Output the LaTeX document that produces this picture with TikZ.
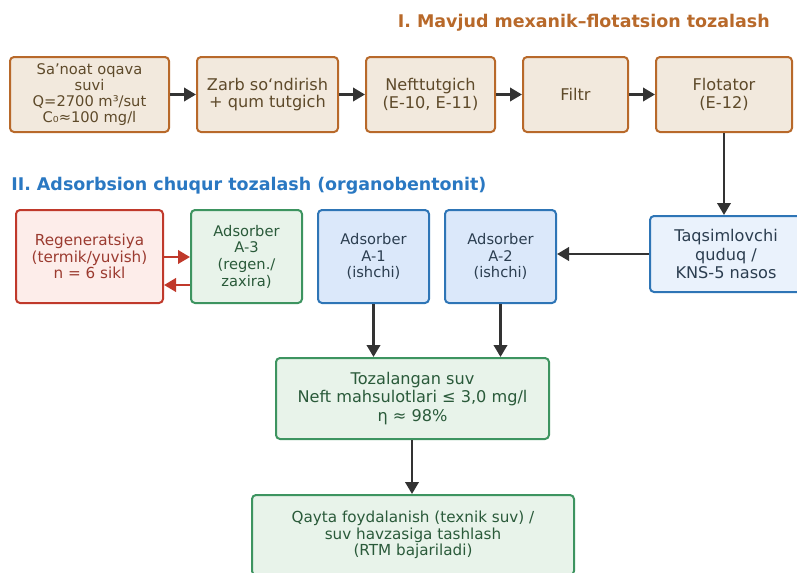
\documentclass[tikz,border=0pt]{standalone}
\usepackage{fontspec}
\setmainfont{DejaVu Sans}
\usetikzlibrary{arrows.meta,calc}
\newdimen\pxu \pxu=0.75pt
\definecolor{oedge}{HTML}{B8692A}
\definecolor{ofill}{HTML}{F2E9DD}
\definecolor{otext}{HTML}{5E4A2A}
\definecolor{bedge}{HTML}{2E75B6}
\definecolor{bfill}{HTML}{DBE8FA}
\definecolor{bfillb}{HTML}{EAF2FC}
\definecolor{btext}{HTML}{2C3E50}
\definecolor{gedge}{HTML}{3D9460}
\definecolor{gfill}{HTML}{E8F3EA}
\definecolor{gtext}{HTML}{2A5A3A}
\definecolor{redge}{HTML}{C0392B}
\definecolor{rfill}{HTML}{FDEDEA}
\definecolor{rtext}{HTML}{9B3B30}
\definecolor{arr}{HTML}{333333}
\definecolor{titleI}{HTML}{B8692A}
\definecolor{titleII}{HTML}{2A78C2}
\tikzset{
  box/.style={draw, line width=1.5pt, rounded corners=3pt, align=center, inner sep=0pt},
  obox/.style={box, draw=oedge, fill=ofill, text=otext, font=\fontsize{12.1}{13}\selectfont, minimum height=75\pxu},
  bbox/.style={box, draw=bedge, fill=bfill, text=btext, font=\fontsize{11}{12.4}\selectfont, minimum height=93\pxu, minimum width=111\pxu},
  gbox/.style={box, draw=gedge, fill=gfill, text=gtext},
  rbox/.style={box, draw=redge, fill=rfill, text=rtext},
  flow/.style={draw=arr, line width=2pt, -{Triangle[length=9pt,width=10pt]}},
  rflow/.style={draw=redge, line width=2pt, -{Triangle[length=9pt,width=10pt]}},
  ttl/.style={font=\bfseries\fontsize{13.1}{15}\selectfont, inner sep=0pt}
}
\begin{document}
\begin{tikzpicture}[x=0.75pt,y=-0.75pt]
\useasboundingbox (0,0) rectangle (797,572);
% titles
\node[ttl, text=titleI, anchor=east] (t1) at (770,23) {I. Mavjud mexanik–flotatsion tozalash};
\node[ttl, text=titleII, anchor=west] (t2) at (11,186) {II. Adsorbsion chuqur tozalash (organobentonit)};
% row 1
\node[obox, minimum width=159\pxu, font=\fontsize{11}{12}\selectfont] (b1) at (89.5,94.5) {Sa’noat oqava\\suvi\\Q=2700 m³/sut\\C₀≈100 mg/l};
\node[obox, minimum width=141\pxu] (b2) at (267.5,94.5) {Zarb so‘ndirish\\+ qum tutgich};
\node[obox, minimum width=129\pxu] (b3) at (430.5,94.5) {Nefttutgich\\(E-10, E-11)};
\node[obox, minimum width=105\pxu] (b4) at (575.5,94.5) {Filtr};
\node[obox, minimum width=136\pxu] (b5) at (724,94.5) {Flotator\\(E-12)};
\draw[flow] (b1) -- (b2);
\draw[flow] (b2) -- (b3);
\draw[flow] (b3) -- (b4);
\draw[flow] (b4) -- (b5);
% row 2
\node[rbox, minimum width=147\pxu, minimum height=93\pxu, font=\fontsize{11.4}{12.4}\selectfont] (rg) at (89.5,256.5) {Regeneratsiya\\(termik/yuvish)\\n = 6 sikl};
\node[gbox, minimum width=111\pxu, minimum height=93\pxu, font=\fontsize{11}{12.5}\selectfont] (a3) at (246.5,256.5) {Adsorber\\A-3\\(regen./\\zaxira)};
\node[bbox] (a1) at (373.5,256.5) {Adsorber\\A-1\\(ishchi)};
\node[bbox] (a2) at (500.5,256.5) {Adsorber\\A-2\\(ishchi)};
\node[box, draw=bedge, fill=bfillb, text=btext, font=\fontsize{12.1}{13.8}\selectfont, minimum width=152\pxu, minimum height=76\pxu] (tq) at (726,254) {Taqsimlovchi\\quduq /\\KNS-5 nasos};
\draw[flow] (b5) -- (b5 |- tq.north);
\draw[flow] (tq.west) -- (a2.east |- tq.west);
\draw[rflow] (rg.east |- 0,257) -- (a3.west |- 0,257);
\draw[rflow] (a3.west |- 0,285) -- (rg.east |- 0,285);
% bottom
\node[gbox, minimum width=273\pxu, minimum height=81\pxu, font=\fontsize{12.1}{14}\selectfont] (tz) at (412.5,398.5) {Tozalangan suv\\Neft mahsulotlari ≤ 3,0 mg/l\\η ≈ 98\%};
\draw[flow] (a1.south) -- (a1.south |- tz.north);
\draw[flow] (a2.south) -- (a2.south |- tz.north);
\node[gbox, minimum width=322\pxu, minimum height=80\pxu, font=\fontsize{11.4}{12.5}\selectfont] (qy) at (413,535) {Qayta foydalanish (texnik suv) /\\suv havzasiga tashlash\\(RTM bajariladi)};
\draw[flow] (tz.south -| 412,0) -- (qy.north -| 412,0);
\end{tikzpicture}
\end{document}
